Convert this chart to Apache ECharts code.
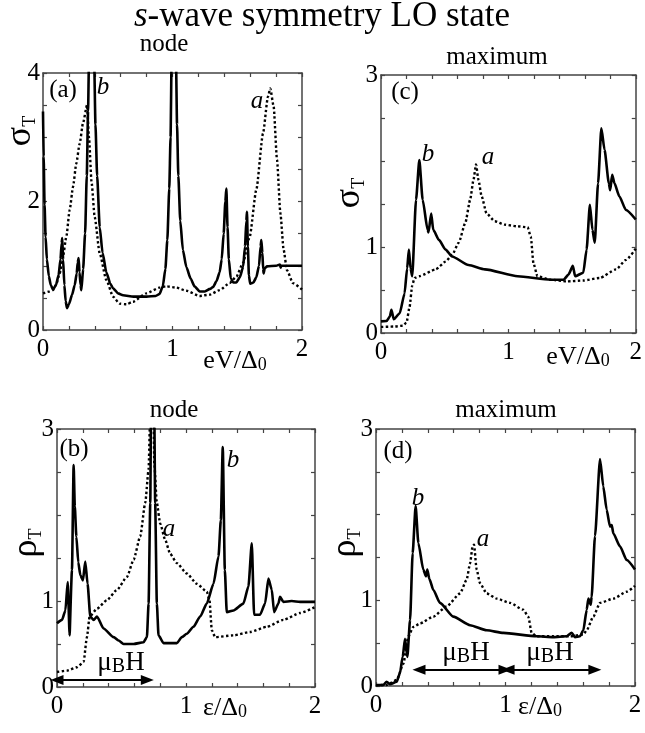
<!DOCTYPE html>
<html>
<head>
<meta charset="utf-8">
<script src="https://cdn.jsdelivr.net/npm/echarts@6/dist/echarts.min.js"></script>
<style>
  html, body { margin: 0; padding: 0; background: #fff; }
  #chart { width: 645px; height: 733px; }
</style>
</head>
<body>
<div id="chart"></div>
<script>
// (a) 隧道电导 node: 曲线 a = 虚线, 曲线 b = 实线
const nodeCondA = [[0,0.57],[0.05,0.6],[0.077,0.62],[0.1,0.7],[0.129,0.88],[0.154,1.14],[0.18,1.45],[0.206,1.87],[0.232,2.23],[0.257,2.59],[0.283,2.9],[0.309,3.22],[0.34,3.5],[0.355,3.0],[0.375,2.3],[0.399,1.76],[0.438,1.19],[0.489,0.78],[0.541,0.52],[0.592,0.41],[0.644,0.4],[0.695,0.44],[0.798,0.57],[0.901,0.66],[0.952,0.68],[1.03,0.66],[1.107,0.61],[1.21,0.53],[1.287,0.55],[1.364,0.62],[1.441,0.73],[1.493,0.83],[1.544,1.04],[1.596,1.45],[1.647,2.18],[1.699,3.06],[1.737,3.63],[1.755,3.76],[1.781,3.48],[1.807,2.65],[1.833,1.82],[1.858,1.25],[1.884,0.93],[1.93,0.73],[2,0.63]];
const nodeCondB = [[0,3.4],[0.005,2.7],[0.012,1.95],[0.02,1.45],[0.03,1.1],[0.045,0.84],[0.06,0.7],[0.077,0.63],[0.1,0.7],[0.12,0.85],[0.135,1.1],[0.144,1.35],[0.149,1.43],[0.155,1.1],[0.165,0.7],[0.175,0.45],[0.185,0.34],[0.2,0.4],[0.225,0.55],[0.245,0.7],[0.26,0.88],[0.268,1.05],[0.275,1.12],[0.282,0.9],[0.29,0.7],[0.296,0.62],[0.31,0.95],[0.325,1.5],[0.338,2.4],[0.348,3.4],[0.355,4.2],[0.375,5.5],[0.395,4.2],[0.405,3.2],[0.418,2.4],[0.438,1.6],[0.46,1.2],[0.489,0.9],[0.52,0.72],[0.541,0.65],[0.58,0.57],[0.618,0.54],[0.7,0.52],[0.8,0.52],[0.87,0.53],[0.9,0.56],[0.925,0.68],[0.945,0.95],[0.96,1.4],[0.975,2.2],[0.985,3.0],[0.993,4.2],[1.01,5.5],[1.027,4.2],[1.035,3.2],[1.045,2.4],[1.06,1.7],[1.08,1.25],[1.107,0.98],[1.14,0.8],[1.17,0.68],[1.21,0.6],[1.25,0.6],[1.29,0.64],[1.313,0.67],[1.34,0.76],[1.364,0.9],[1.38,1.1],[1.395,1.5],[1.408,2.0],[1.416,2.2],[1.425,1.6],[1.435,1.1],[1.45,0.8],[1.47,0.74],[1.493,0.74],[1.52,0.82],[1.545,0.98],[1.56,1.3],[1.57,1.7],[1.575,1.84],[1.582,1.3],[1.59,0.85],[1.6,0.72],[1.625,0.74],[1.647,0.82],[1.668,1.0],[1.68,1.3],[1.686,1.4],[1.694,1.2],[1.7,0.95],[1.704,0.88],[1.712,0.96],[1.73,0.99],[1.8,1.0],[1.83,1.02],[1.835,0.97],[1.84,1.0],[2,1.0]];

// (c) 隧道电导 maximum
const maxCondA = [[0,0.07],[0.1,0.075],[0.172,0.085],[0.2,0.12],[0.224,0.3],[0.245,0.55],[0.263,0.64],[0.301,0.66],[0.43,0.74],[0.507,0.83],[0.559,0.91],[0.61,1.05],[0.662,1.28],[0.7,1.55],[0.726,1.78],[0.746,1.96],[0.765,1.78],[0.79,1.59],[0.829,1.39],[0.893,1.3],[0.97,1.26],[1.073,1.24],[1.151,1.23],[1.176,1.12],[1.197,0.81],[1.228,0.66],[1.331,0.62],[1.459,0.6],[1.588,0.61],[1.717,0.64],[1.846,0.74],[1.923,0.85],[2,0.98]];
const maxCondB = [[0,0.135],[0.044,0.14],[0.069,0.19],[0.082,0.27],[0.1,0.16],[0.147,0.23],[0.185,0.46],[0.205,0.75],[0.219,0.97],[0.232,0.75],[0.245,0.66],[0.275,1.55],[0.301,2.01],[0.327,1.55],[0.366,1.2],[0.373,1.17],[0.394,1.39],[0.41,1.2],[0.456,1.08],[0.507,0.97],[0.558,0.89],[0.687,0.79],[0.816,0.74],[1.073,0.66],[1.331,0.62],[1.434,0.62],[1.472,0.68],[1.506,0.78],[1.524,0.66],[1.588,0.7],[1.614,0.97],[1.64,1.49],[1.66,1.2],[1.678,1.05],[1.704,1.74],[1.73,2.38],[1.755,2.13],[1.789,1.74],[1.799,1.66],[1.815,1.84],[1.833,1.74],[1.871,1.59],[1.923,1.43],[2,1.32]];

// (b) 态密度 node
const nodeDosA = [[0,0.175],[0.077,0.19],[0.155,0.23],[0.206,0.29],[0.232,0.58],[0.253,0.82],[0.31,0.91],[0.387,1.01],[0.465,1.13],[0.542,1.28],[0.594,1.48],[0.645,1.75],[0.684,2.14],[0.71,2.53],[0.723,3.2],[0.748,3.2],[0.754,2.6],[0.774,2.14],[0.8,1.9],[0.839,1.71],[0.877,1.55],[0.929,1.44],[1.006,1.32],[1.084,1.2],[1.161,1.11],[1.182,1.01],[1.2,0.66],[1.226,0.58],[1.368,0.6],[1.497,0.64],[1.626,0.7],[1.755,0.78],[1.884,0.86],[2,0.93]];
const nodeDosB = [[0,0.74],[0.039,0.78],[0.065,0.89],[0.083,1.22],[0.098,0.6],[0.103,0.6],[0.116,1.36],[0.129,2.58],[0.138,2.1],[0.15,1.75],[0.165,1.45],[0.181,1.3],[0.201,1.24],[0.219,1.46],[0.237,1.2],[0.258,0.82],[0.284,0.78],[0.31,0.82],[0.361,0.68],[0.439,0.58],[0.477,0.54],[0.516,0.5],[0.594,0.5],[0.671,0.52],[0.697,0.58],[0.71,0.97],[0.723,2.14],[0.73,3.4],[0.753,3.4],[0.761,2.14],[0.774,0.97],[0.787,0.6],[0.826,0.51],[0.929,0.51],[0.968,0.58],[1.006,0.62],[1.058,0.7],[1.11,0.82],[1.161,0.97],[1.213,1.2],[1.252,1.52],[1.27,1.94],[1.285,2.79],[1.301,1.36],[1.316,0.87],[1.368,0.89],[1.445,0.97],[1.484,1.17],[1.51,1.67],[1.528,0.84],[1.574,0.84],[1.613,0.97],[1.639,1.26],[1.665,1.13],[1.683,0.87],[1.716,0.97],[1.729,1.05],[1.755,0.99],[1.819,1.0],[1.884,0.99],[2,0.99]];

// (d) 态密度 maximum
const maxDosA = [[0,0.01],[0.082,0.012],[0.16,0.07],[0.211,0.26],[0.25,0.58],[0.288,0.69],[0.34,0.73],[0.443,0.81],[0.546,0.93],[0.649,1.08],[0.7,1.24],[0.726,1.43],[0.746,1.63],[0.757,1.65],[0.777,1.36],[0.803,1.2],[0.855,1.08],[0.932,1.02],[1.035,0.97],[1.138,0.89],[1.176,0.81],[1.202,0.62],[1.241,0.58],[1.369,0.58],[1.498,0.58],[1.601,0.6],[1.627,0.65],[1.678,0.81],[1.73,0.97],[1.833,1.02],[1.936,1.1],[2,1.17]];
const maxDosB = [[0,0.01],[0.057,0.012],[0.082,0.05],[0.108,0.02],[0.16,0.05],[0.185,0.15],[0.206,0.34],[0.224,0.55],[0.242,0.34],[0.263,0.77],[0.283,1.55],[0.306,2.1],[0.327,1.67],[0.365,1.36],[0.386,1.28],[0.396,1.36],[0.412,1.25],[0.443,1.12],[0.494,0.97],[0.597,0.81],[0.726,0.71],[0.855,0.65],[0.983,0.62],[1.241,0.58],[1.369,0.57],[1.472,0.58],[1.511,0.62],[1.537,0.57],[1.575,0.58],[1.601,0.65],[1.627,0.89],[1.64,1.02],[1.658,0.95],[1.665,1.04],[1.691,1.75],[1.73,2.65],[1.755,2.33],[1.781,2.06],[1.807,1.86],[1.82,1.88],[1.833,1.78],[1.884,1.63],[1.936,1.47],[2,1.36]];

// 刻度标签
const xTickLabels = [0, 1, 2];
const yTickLabelsA = [0, 2, 4];
const yTickLabelsOther = [0, 1, 3];

// μBH 箭头范围 [x1, x2, y]
const arrowsB = [[0, 0.7, 0.08]];
const arrowsD = [[0.332, 0.996, 0.19], [1.02, 1.69, 0.19]];

const FONT = "'Liberation Serif', 'DejaVu Serif', serif";
const FRAME = '#444';

const panels = [
    { grid: { left: 43, top: 73, width: 259, height: 257 }, yMax: 4, yLabels: yTickLabelsA, dotted: nodeCondA, solid: nodeCondB, arrows: [] },
    { grid: { left: 381, top: 75, width: 259, height: 258 }, yMax: 3, yLabels: yTickLabelsOther, dotted: maxCondA, solid: maxCondB, arrows: [] },
    { grid: { left: 57, top: 429, width: 258, height: 258 }, yMax: 3, yLabels: yTickLabelsOther, dotted: nodeDosA, solid: nodeDosB, arrows: arrowsB },
    { grid: { left: 376, top: 429, width: 259, height: 257 }, yMax: 3, yLabels: yTickLabelsOther, dotted: maxDosA, solid: maxDosB, arrows: arrowsD }
];

function labelIn(list) {
    return (v) => {
        const hit = list.find(t => Math.abs(t - v) < 1e-6);
        return hit === undefined ? '' : String(hit);
    };
}

function axisBase(showLabel, formatter, margin) {
    return {
        type: 'value',
        axisLine: { show: true, onZero: false, lineStyle: { color: FRAME, width: 1.5 } },
        axisTick: { show: true, inside: true, length: 4, lineStyle: { color: FRAME, width: 1.2 } },
        axisLabel: { show: showLabel, formatter: formatter, color: '#000', fontSize: 25, fontFamily: FONT, margin: margin || 4 },
        splitLine: { show: false }
    };
}

const grids = [], xAxes = [], yAxes = [], series = [];
panels.forEach((p, i) => {
    grids.push(Object.assign({ containLabel: false }, p.grid));
    xAxes.push(Object.assign(axisBase(true, labelIn(xTickLabels), 7), { gridIndex: i, position: 'bottom', min: 0, max: 2, interval: 0.2 }));
    xAxes.push(Object.assign(axisBase(false), { gridIndex: i, position: 'top', min: 0, max: 2, interval: 0.2 }));
    yAxes.push(Object.assign(axisBase(true, labelIn(p.yLabels), 3), { gridIndex: i, position: 'left', min: 0, max: p.yMax, interval: 0.5 }));
    yAxes.push(Object.assign(axisBase(false), { gridIndex: i, position: 'right', min: 0, max: p.yMax, interval: 0.5 }));

    series.push({
        type: 'line', xAxisIndex: 2 * i, yAxisIndex: 2 * i, data: p.dotted,
        showSymbol: false, symbol: 'none', clip: true, smooth: 0.2, smoothMonotone: 'x',
        lineStyle: { color: '#000', width: 2.4, type: [2.4, 2.4] }
    });
    const s = {
        type: 'line', xAxisIndex: 2 * i, yAxisIndex: 2 * i, data: p.solid,
        showSymbol: false, symbol: 'none', clip: true, smooth: 0.2, smoothMonotone: 'x',
        lineStyle: { color: '#000', width: 2.6 }
    };
    if (p.arrows.length) {
        s.markLine = {
            silent: true, animation: false,
            symbol: ['triangle', 'triangle'], symbolSize: [10, 13],
            lineStyle: { color: '#000', width: 2, type: 'solid' },
            label: { show: false },
            data: p.arrows.map(a => [{ coord: [a[0], a[2]] }, { coord: [a[1], a[2]] }])
        };
    }
    series.push(s);
});

// 文本注释
function txt(x, y, text, size, extra) {
    return {
        type: 'text', x: x, y: y, silent: true,
        rotation: (extra && extra.rotation) || 0,
        style: Object.assign({
            text: text, fill: '#000', align: 'center', verticalAlign: 'middle',
            fontSize: size, fontFamily: FONT
        }, extra && extra.style)
    };
}
const subRich = (big, small) => ({
    m: { fontSize: big, fontFamily: FONT, fill: '#000' },
    s: { fontSize: small, fontFamily: FONT, fill: '#000', verticalAlign: 'bottom' }
});
const italic = { style: { fontStyle: 'italic' } };

const graphic = [
    txt(322, 17, '{i|s}{m|-wave symmetry LO state}', 35, { style: { rich: {
        i: { fontSize: 35, fontFamily: FONT, fontStyle: 'italic', fill: '#000' },
        m: { fontSize: 35, fontFamily: FONT, fill: '#000' } } } }),
    txt(164, 44, 'node', 25), txt(497, 57, 'maximum', 25),
    txt(174, 410, 'node', 25), txt(506, 410, 'maximum', 25),
    txt(63, 90, '(a)', 25), txt(405, 92, '(c)', 25), txt(74, 449, '(b)', 25), txt(398, 451, '(d)', 25),
    txt(103, 87, 'b', 25, italic), txt(257, 101, 'a', 25, italic),
    txt(428, 154, 'b', 25, italic), txt(488, 157, 'a', 25, italic),
    txt(233, 460, 'b', 25, italic), txt(169, 529, 'a', 25, italic),
    txt(418, 498, 'b', 25, italic), txt(483, 539, 'a', 25, italic),
    // 纵轴名
    txt(21, 131, '{m|σ}{s|T}', 36, { rotation: Math.PI / 2, style: { rich: subRich(36, 18) } }),
    txt(350, 193, '{m|σ}{s|T}', 36, { rotation: Math.PI / 2, style: { rich: subRich(36, 18) } }),
    txt(27, 543, '{m|ρ}{s|T}', 36, { rotation: Math.PI / 2, style: { rich: subRich(36, 18) } }),
    txt(346, 543, '{m|ρ}{s|T}', 36, { rotation: Math.PI / 2, style: { rich: subRich(36, 18) } }),
    // 横轴名
    txt(235, 361, '{m|eV/Δ}{s|0}', 26, { style: { rich: subRich(26, 18) } }),
    txt(578, 357, '{m|eV/Δ}{s|0}', 26, { style: { rich: subRich(26, 18) } }),
    txt(225, 708, '{m|ε/Δ}{s|0}', 26, { style: { rich: subRich(26, 18) } }),
    txt(540, 707, '{m|ε/Δ}{s|0}', 26, { style: { rich: subRich(26, 18) } }),
    // μBH
    txt(121, 663, '{m|μ}{s|B}{m|H}', 27, { style: { rich: subRich(27, 20) } }),
    txt(466, 653, '{m|μ}{s|B}{m|H}', 27, { style: { rich: subRich(27, 20) } }),
    txt(550, 653, '{m|μ}{s|B}{m|H}', 27, { style: { rich: subRich(27, 20) } })
];

const chart = echarts.init(document.getElementById('chart'), null, { renderer: 'canvas' });
chart.setOption({
    backgroundColor: '#fff',
    animation: false,
    grid: grids,
    xAxis: xAxes,
    yAxis: yAxes,
    series: series,
    graphic: graphic
});
</script>
</body>
</html>
